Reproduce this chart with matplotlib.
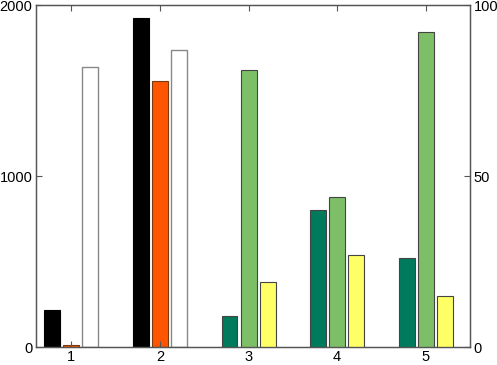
import numpy as np
import matplotlib.pyplot as plt

plt.rcParams['font.family'] = ['Liberation Sans', 'DejaVu Sans']

# Values (left axis: groups 1-2, right axis: groups 3-5)
groups = [1, 2, 3, 4, 5]
left_groups = [1, 2]
right_groups = [3, 4, 5]
left_black = [215, 1926]
left_orange = [10, 1554]
left_white = [1636, 1739]
right_teal = [9.1, 40.0, 25.9]
right_green = [81.1, 43.9, 92.0]
right_yellow = [18.9, 27.0, 14.9]

fig = plt.figure(figsize=(4.97, 3.65), dpi=100)
ax = fig.add_axes([0.0724, 0.0493, 0.8733, 0.937])
ax2 = ax.twinx()

w = 0.18
off = 0.215
edge = '#444444'
lx = np.array(left_groups)
rx = np.array(right_groups)

ax.bar(lx - off, left_black, w, color='black', edgecolor='black', linewidth=0.8)
ax.bar(lx, left_orange, w, color='#ff5500', edgecolor='#7a3a10', linewidth=0.8)
ax.bar(lx + off, left_white, w, color='white', edgecolor='#888888', linewidth=1.0)

ax2.bar(rx - off, right_teal, w, color='#007a5c', edgecolor=edge, linewidth=0.8)
ax2.bar(rx, right_green, w, color='#7dbf66', edgecolor=edge, linewidth=0.8)
ax2.bar(rx + off, right_yellow, w, color='#ffff66', edgecolor=edge, linewidth=0.8)

ax.set_xlim(0.6, 5.5)
ax.set_ylim(0, 2000)
ax2.set_ylim(0, 100)
ax.set_xticks(groups)
ax.set_yticks([0, 1000, 2000])
ax2.set_yticks([0, 50, 100])

for a in (ax, ax2):
    for s in a.spines.values():
        s.set_color('#555555')
        s.set_linewidth(0.9)
    a.tick_params(direction='in', length=4, width=0.8, color='#555555',
                  labelsize=10.5, pad=2.5)
ax.tick_params(axis='x', top=True)

fig.savefig('out.png', dpi=100)
